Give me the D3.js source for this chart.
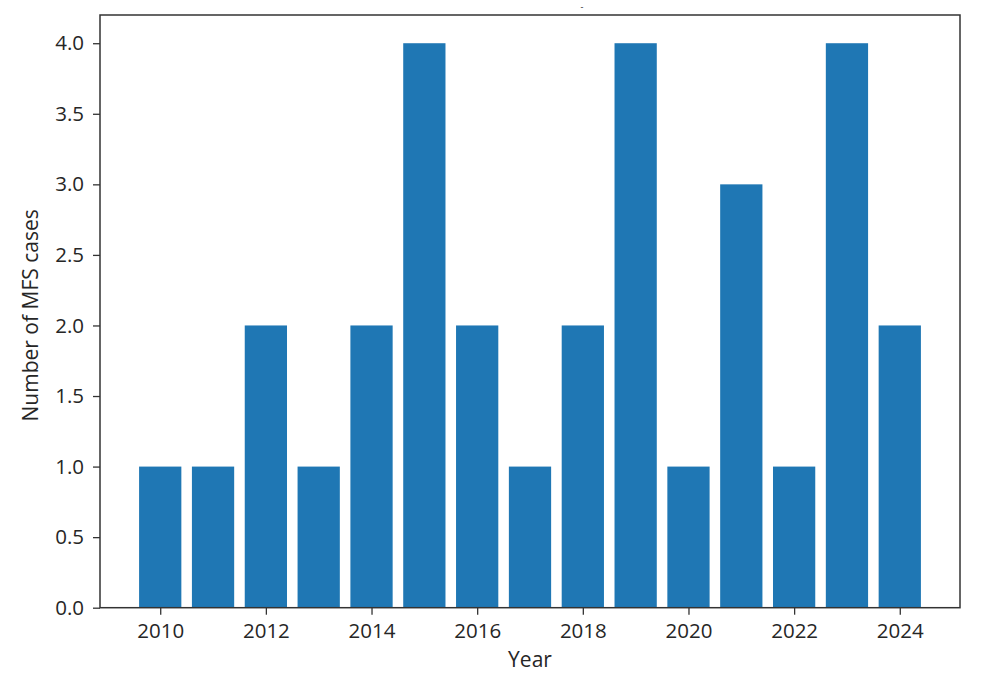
<!DOCTYPE html>
<html><head><meta charset="utf-8">
<script src="https://cdn.jsdelivr.net/npm/d3@7"></script>
<style>body{margin:0;background:#fff}svg{display:block}text{font-family:"Open Sans",sans-serif;fill:#262626}</style>
</head><body><svg id="c" width="986" height="681"></svg>
<script>
const years = [2010,2011,2012,2013,2014,2015,2016,2017,2018,2019,2020,2021,2022,2023,2024];
const cases = [1,1,2,1,2,4,2,1,2,4,1,3,1,4,2];
const xTicks = [2010,2012,2014,2016,2018,2020,2022,2024];
const yTicks = [0,0.5,1,1.5,2,2.5,3,3.5,4];

const svg = d3.select("#c");
const L=100,R=960,T=15,B=607.7;
const x = d3.scaleLinear().domain([2008.86,2025.14]).range([L,R]);
const y = d3.scaleLinear().domain([0,4.2]).range([B,T]);
const bw = x(0.8)-x(0);

svg.selectAll("rect.bar").data(years).enter().append("rect")
  .attr("x",(d)=>x(d-0.4)).attr("width",bw)
  .attr("y",(d,i)=>y(cases[i])).attr("height",(d,i)=>B-y(cases[i]))
  .attr("fill","#1f77b4");

const xa = svg.append("g").attr("transform",`translate(0,${B})`)
  .call(d3.axisBottom(x).tickValues(xTicks).tickFormat(d3.format("d")).tickSize(7).tickPadding(6));
const ya = svg.append("g").attr("transform",`translate(${L},0)`)
  .call(d3.axisLeft(y).tickValues(yTicks).tickFormat(d3.format(".1f")).tickSize(7).tickPadding(9));
[xa,ya].forEach(a=>{a.select(".domain").remove();a.selectAll("text").attr("font-size",20.5).attr("fill","#262626").attr("font-family","Open Sans");a.selectAll("line").attr("stroke","#333").attr("stroke-width",1.3);});
xa.selectAll("text").attr("dy",null).attr("y",null).attr("transform",null);
xa.selectAll(".tick text").attr("y",30.5);

svg.append("rect").attr("x",L).attr("y",T).attr("width",R-L).attr("height",B-T)
  .attr("fill","none").attr("stroke","#333").attr("stroke-width",1.5);

svg.append("text").attr("x",(L+R)/2).attr("y",667).attr("text-anchor","middle").attr("font-size",21).text("Year");
svg.append("text").attr("transform",`translate(38,${(T+B)/2+4}) rotate(-90)`).attr("text-anchor","middle").attr("font-size",21).text("Number of MFS cases");
svg.append("text").attr("x",582).attr("y",10).attr("text-anchor","middle").attr("font-size",9).text("-");
</script></body></html>
